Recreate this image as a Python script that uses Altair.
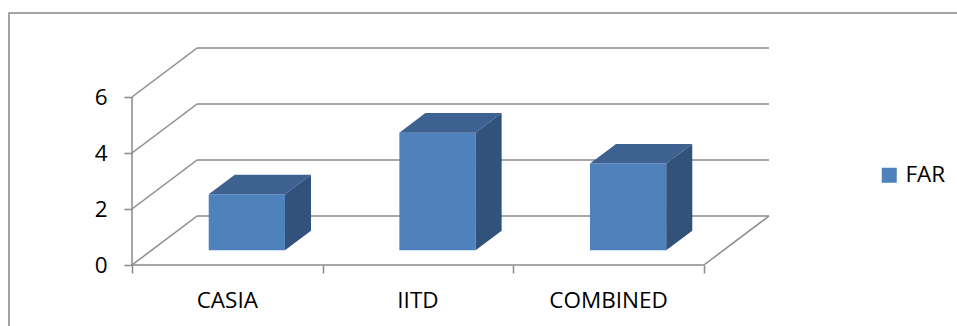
import altair as alt
import pandas as pd

# ---- data ----
categories = ["CASIA", "IITD", "COMBINED"]
far_values = [2.0, 4.2, 3.1]
y_ticks = [0, 2, 4, 6]
series_name = "FAR"

# ---- 3D projection parameters (category units / value units) ----
DX = 0.3415   # depth of the floor along x (category units)
DY = 1.75     # depth of the floor along y (value units)
BAR_W = 0.4   # bar width in category units
Z0 = 0.30     # front of the bar, fraction of depth
DZ = 0.40     # bar depth, fraction of depth

FRONT = "#4F81BD"
TOP = "#3D6291"
SIDE = "#31527A"
GRID = "#8A8A8A"
FONT = "Open Sans"
FS = 22.5

n = len(categories)
xs = alt.Scale(domain=[0, n + DX], nice=False, zero=False)
ys = alt.Scale(domain=[0, y_ticks[-1] + DY], nice=False, zero=False)
x_axis = alt.Axis(values=list(range(n + 1)), labels=False, domain=False, grid=False,
                  ticks=True, tickSize=8, tickColor=GRID, tickWidth=1.5, title=None)
y_axis = alt.Axis(values=y_ticks, domain=False, grid=False, ticks=True, tickSize=8,
                  tickColor=GRID, tickWidth=1.5, labelFont=FONT, labelFontSize=FS,
                  labelColor="#000000", labelPadding=17, title=None)

def X(f="x"):
    return alt.X(f"{f}:Q", scale=xs, axis=x_axis)

def Y(f="y"):
    return alt.Y(f"{f}:Q", scale=ys, axis=y_axis, stack=None)

# ---- wall / floor lines ----
segs = []
def seg(a, b):
    k = len(segs) // 2
    segs.append({"id": k, "o": 0, "x": a[0], "y": a[1]})
    segs.append({"id": k, "o": 1, "x": b[0], "y": b[1]})

seg((0, 0), (0, y_ticks[-1]))          # front vertical axis
seg((0, 0), (n, 0))                    # floor front edge
seg((n, 0), (n + DX, DY))              # floor right edge
for v in y_ticks:
    seg((DX, v + DY), (n + DX, v + DY))  # back wall gridlines
    seg((0, v), (DX, v + DY))            # side wall lines
lines_df = pd.DataFrame(segs)

lines = alt.Chart(lines_df).mark_line(color=GRID, strokeWidth=1.5).encode(
    x=X(), y=Y(), detail="id:N", order="o:Q"
)

# ---- bars ----
front_rows, top_rows, side_rows = [], [], []
ox, oy = Z0 * DX, Z0 * DY
ddx, ddy = DZ * DX, DZ * DY
for i, (c, v) in enumerate(zip(categories, far_values)):
    x0 = i + 0.5 - BAR_W / 2 + ox
    x1 = x0 + BAR_W
    base, top = oy, v + oy
    front_rows.append({"cat": c, "series": series_name, "x": x0, "x2": x1, "y": base, "y2": top})
    for (px, pl, pu) in [(x0, top, top), (x0 + ddx, top, top + ddy),
                         (x1, top, top + ddy), (x1 + ddx, top + ddy, top + ddy)]:
        top_rows.append({"cat": c, "x": px, "y": pl, "y2": pu})
    for (px, pl, pu) in [(x1, base, top), (x1 + ddx, base + ddy, top + ddy)]:
        side_rows.append({"cat": c, "x": px, "y": pl, "y2": pu})

front = alt.Chart(pd.DataFrame(front_rows)).mark_rect().encode(
    x=X(), x2="x2:Q", y=Y(), y2="y2:Q",
    color=alt.Color("series:N", scale=alt.Scale(domain=[series_name], range=[FRONT]),
                    legend=alt.Legend(title=None, orient="none", legendX=746, legendY=116,
                                      symbolType="square", symbolSize=225, symbolStrokeWidth=0,
                                      labelFont=FONT, labelFontSize=FS, labelColor="#000000",
                                      labelOffset=5, padding=0))
)
top_face = alt.Chart(pd.DataFrame(top_rows)).mark_area(color=TOP, orient="vertical").encode(
    x=X(), y=Y(), y2="y2:Q", detail="cat:N"
)
side_face = alt.Chart(pd.DataFrame(side_rows)).mark_area(color=SIDE, orient="vertical").encode(
    x=X(), y=Y(), y2="y2:Q", detail="cat:N"
)

# ---- category labels ----
lab_df = pd.DataFrame({"cat": categories, "x": [i + 0.5 for i in range(n)]})
labels = alt.Chart(lab_df).mark_text(font=FONT, fontSize=FS, color="#000000",
                                     baseline="alphabetic", dy=43).encode(
    x=X(), y=alt.datum(0, scale=ys), text="cat:N"
)

# ---- outer frame ----
frame = alt.Chart(pd.DataFrame({"a": [0]})).mark_rect(
    fill=None, stroke="#878787", strokeWidth=1.5
).encode(x=alt.value(-123), x2=alt.value(830), y=alt.value(-35), y2=alt.value(300))

chart = alt.layer(frame, lines, front, top_face, side_face, labels).properties(
    width=637, height=217,
    autosize=alt.AutoSizeParams(type="none"),
    padding={"left": 132, "top": 48, "right": 188, "bottom": 61},
    background="white",
).configure_view(stroke=None)

chart.save("out.html", embed_options={"renderer": "svg", "actions": False})
